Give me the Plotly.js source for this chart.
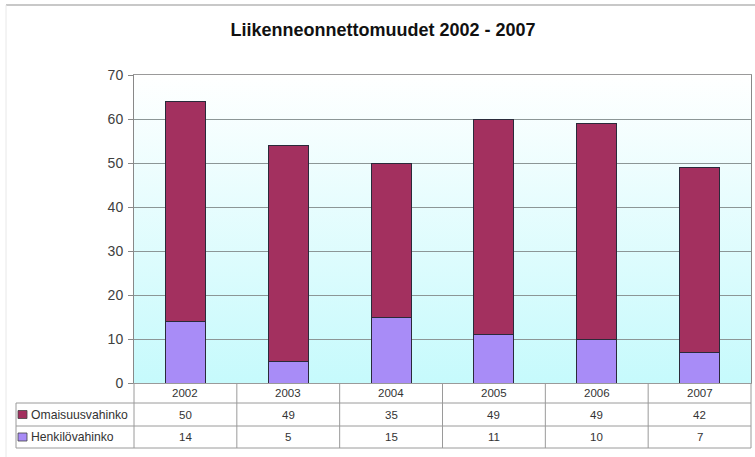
<!DOCTYPE html>
<html><head><meta charset="utf-8">
<script src="https://cdn.plot.ly/plotly-3.0.1.min.js"></script>
<style>html,body{margin:0;padding:0;background:#fff}</style>
</head><body><div id="chart" style="width:755px;height:457px"></div>
<script>
// ---- data ----
const years = ['2002', '2003', '2004', '2005', '2006', '2007'];
const omaisuusvahinko = [50, 49, 35, 49, 49, 42];
const henkilovahinko = [14, 5, 15, 11, 10, 7];
const seriesNames = ['Omaisuusvahinko', 'Henkilövahinko'];
const yTickVals = [0, 10, 20, 30, 40, 50, 60, 70];
const chartTitle = 'Liikenneonnettomuudet 2002 - 2007';

// ---- styles ----
const colOmaisuus = '#a3305f';
const colHenkilo = '#a88cf7';
const FONT = 'Arial, "Liberation Sans", sans-serif';
const W = 755, H = 457, L = 134, R = 751, T = 75, B = 383;
const px2x = px => (px - L) / (R - L);
const py2y = py => (B - py) / (B - T);
const lineCol = '#9a9a9a';

const traces = [
  {type: 'bar', name: seriesNames[1], x: years, y: henkilovahinko,
   marker: {color: colHenkilo, line: {color: '#2a2a3a', width: 1}}, width: 0.39},
  {type: 'bar', name: seriesNames[0], x: years, y: omaisuusvahinko,
   marker: {color: colOmaisuus, line: {color: '#2a2a3a', width: 1}}, width: 0.39}
];

const n = years.length;
const shapes = [];
const annotations = [];
// outer chart frame
shapes.push({type: 'line', xref: 'paper', yref: 'paper', x0: px2x(6), x1: px2x(755), y0: py2y(5), y1: py2y(5), line: {color: '#c8c8c8', width: 2}});
shapes.push({type: 'line', xref: 'paper', yref: 'paper', x0: px2x(6), x1: px2x(6), y0: py2y(5), y1: py2y(457), line: {color: '#e8e8e8', width: 1}});
// table horizontal lines
[403, 426, 448].forEach(py => shapes.push({type: 'line', xref: 'paper', yref: 'paper',
  x0: px2x(16), x1: 1, y0: py2y(py), y1: py2y(py), line: {color: lineCol, width: 1}}));
// table vertical lines
shapes.push({type: 'line', xref: 'paper', yref: 'paper', x0: px2x(16), x1: px2x(16), y0: py2y(403), y1: py2y(448), line: {color: lineCol, width: 1}});
for (let i = 0; i <= n; i++) {
  shapes.push({type: 'line', xref: 'paper', yref: 'paper', x0: i / n, x1: i / n, y0: 0, y1: py2y(448), line: {color: lineCol, width: 1}});
}
// legend keys
[[colOmaisuus, 414.5], [colHenkilo, 437]].forEach(([c, cy]) => shapes.push({type: 'rect', xref: 'paper', yref: 'paper',
  x0: px2x(18), x1: px2x(27), y0: py2y(cy - 4), y1: py2y(cy + 4), fillcolor: c, line: {color: '#444', width: 0.8}}));

const tfont = {family: FONT, size: 11.5, color: '#333'};
const lfont = {family: FONT, size: 12.2, color: '#333'};
years.forEach((yr, i) => {
  annotations.push({xref: 'paper', yref: 'paper', x: (i + 0.5) / n, y: py2y(393), text: yr, showarrow: false, font: tfont, xanchor: 'center', yanchor: 'middle'});
  annotations.push({xref: 'paper', yref: 'paper', x: (i + 0.5) / n, y: py2y(414.5), text: String(omaisuusvahinko[i]), showarrow: false, font: tfont, xanchor: 'center', yanchor: 'middle'});
  annotations.push({xref: 'paper', yref: 'paper', x: (i + 0.5) / n, y: py2y(437), text: String(henkilovahinko[i]), showarrow: false, font: tfont, xanchor: 'center', yanchor: 'middle'});
});
annotations.push({xref: 'paper', yref: 'paper', x: px2x(29), y: py2y(414.5), text: seriesNames[0], showarrow: false, font: lfont, xanchor: 'left', yanchor: 'middle'});
annotations.push({xref: 'paper', yref: 'paper', x: px2x(29), y: py2y(437), text: seriesNames[1], showarrow: false, font: lfont, xanchor: 'left', yanchor: 'middle'});

const grad = '<svg xmlns="http://www.w3.org/2000/svg" width="100" height="100" preserveAspectRatio="none">' +
  '<defs><linearGradient id="g" x1="0" y1="0" x2="0" y2="1"><stop offset="0" stop-color="#ffffff"/><stop offset="1" stop-color="#c6fafc"/></linearGradient></defs>' +
  '<rect width="100" height="100" fill="url(#g)"/></svg>';

const layout = {
  width: W, height: H,
  margin: {l: L, r: W - R, t: T, b: H - B, pad: 0},
  paper_bgcolor: '#ffffff', plot_bgcolor: 'rgba(0,0,0,0)',
  title: {text: '<b>' + chartTitle + '</b>', font: {family: FONT, size: 18, color: '#111'}, x: 383 / W, xref: 'container', xanchor: 'center', y: 1 - 30 / H, yref: 'container', yanchor: 'middle'},
  showlegend: false,
  barmode: 'stack',
  xaxis: {type: 'category', range: [-0.5, n - 0.5], showticklabels: false, ticks: '', showgrid: false,
    showline: true, linecolor: lineCol, linewidth: 1, mirror: true, zeroline: false, fixedrange: true},
  yaxis: {range: [0, 70], tickvals: yTickVals, ticks: 'outside', ticklen: 5, tickcolor: '#888',
    showgrid: true, gridcolor: '#8c9696', gridwidth: 1, showline: true, linecolor: '#888', linewidth: 1, mirror: true,
    zeroline: false, tickfont: {family: FONT, size: 14, color: '#404040'}, ticklabelstandoff: 2, fixedrange: true},
  images: [{source: 'data:image/svg+xml;utf8,' + encodeURIComponent(grad), xref: 'paper', yref: 'paper', x: 0, y: 1, sizex: 1, sizey: 1, sizing: 'stretch', layer: 'below', xanchor: 'left', yanchor: 'top'}],
  shapes: shapes,
  annotations: annotations
};

Plotly.newPlot('chart', traces, layout, {displayModeBar: false, staticPlot: true});
</script></body></html>
